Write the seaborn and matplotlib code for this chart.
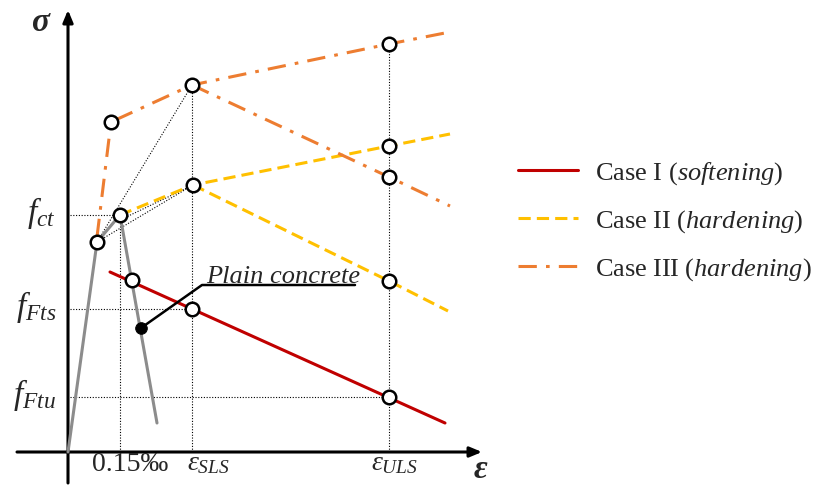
import numpy as np
import pandas as pd
import matplotlib
matplotlib.use("Agg")
import matplotlib.pyplot as plt
import seaborn as sns
from matplotlib.lines import Line2D

sns.set_theme(style="white")
plt.rcParams["font.family"] = ["Liberation Serif", "DejaVu Serif"]
plt.rcParams["mathtext.fontset"] = "custom"
plt.rcParams["mathtext.rm"] = "Liberation Serif"
plt.rcParams["mathtext.it"] = "Liberation Serif:italic"
plt.rcParams["mathtext.bf"] = "Liberation Serif:bold:italic"

# ---------------- data (schematic strain / stress units) ----------------
# plain concrete (grey)
plain_eps = [0.00, 0.29, 0.52, 0.89]
plain_sig = [0.00, 2.10, 2.37, 0.29]
plain_dot_eps = [0.73]
plain_dot_sig = [1.24]

# Case I (softening)
c1_eps = [0.42, 3.77]
c1_sig = [1.80, 0.29]
c1_pts_eps = [0.64, 1.24, 3.21]
c1_pts_sig = [1.72, 1.43, 0.55]

# Case II (hardening) – common part + two branches
c2_eps = [0.52, 1.25, 3.21, 3.82]
c2_sig = [2.37, 2.67, 3.06, 3.18]
c2b_eps = [1.25, 3.21, 3.80]
c2b_sig = [2.67, 1.71, 1.41]
c2_pts_eps = [0.52, 1.25, 3.21, 3.21]
c2_pts_sig = [2.37, 2.67, 3.06, 1.71]

# Case III (hardening)
c3_eps = [0.29, 0.43, 1.24, 3.21, 3.82]
c3_sig = [2.15, 3.30, 3.67, 4.08, 4.20]
c3b_eps = [1.24, 3.21, 3.82]
c3b_sig = [3.67, 2.75, 2.46]
c3_pts_eps = [0.29, 0.43, 1.24, 3.21, 3.21]
c3_pts_sig = [2.10, 3.30, 3.67, 4.08, 2.75]

# reference levels
eps_015, eps_sls, eps_uls = 0.52, 1.24, 3.21
f_ct, f_fts, f_ftu = 2.37, 1.43, 0.55
x_tick_labels = ["0.15‰", r"$\varepsilon_{SLS}$", r"$\varepsilon_{ULS}$"]
y_tick_labels = [r"$f_{ct}$", r"$f_{Fts}$", r"$f_{Ftu}$"]
legend_labels = [r"Case I $\mathit{(softening)}$",
                 r"Case II $\mathit{(hardening)}$",
                 r"Case III $\mathit{(hardening)}$"]

RED, YEL, ORA, GREY = "#C00000", "#FFC000", "#ED7D31", "#8C8C8C"
DASH2 = (0, (4, 2))
DASH3 = (0, (6, 3, 1.2, 3))

fig = plt.figure(figsize=(8.19, 4.90), dpi=100)
ax = fig.add_axes([0, 0, 1, 1])
ax.set_xlim(-0.68, 7.51)
ax.set_ylim(-0.38, 4.52)
ax.axis("off")

# dotted guide lines
dot_kw = dict(color="black", lw=0.8, linestyle=(0, (1, 1.5)), zorder=1)
ax.plot([0.02, eps_015], [f_ct, f_ct], **dot_kw)
ax.plot([0.02, eps_sls], [f_fts, f_fts], **dot_kw)
ax.plot([0.02, eps_uls], [f_ftu, f_ftu], **dot_kw)
ax.plot([eps_015, eps_015], [0, f_ct], **dot_kw)
ax.plot([eps_sls, eps_sls], [0, c3_sig[2]], **dot_kw)
ax.plot([eps_uls, eps_uls], [0, c3_sig[3]], **dot_kw)
ax.plot([plain_eps[1], c3_eps[2]], [plain_sig[1], c3_sig[2]], **dot_kw)
ax.plot([plain_eps[1], c2_eps[1]], [plain_sig[1], c2_sig[1]], **dot_kw)
ax.plot([plain_eps[2], c2_eps[1]], [plain_sig[2] - 0.05, c2_sig[1]], **dot_kw)

# axes arrows
ax.annotate("", xy=(0, 4.42), xytext=(0, -0.31),
            arrowprops=dict(arrowstyle="-|>,head_length=0.6,head_width=0.25",
                            color="black", lw=2.2, shrinkA=0, shrinkB=0), zorder=2)
ax.annotate("", xy=(4.14, 0), xytext=(-0.51, 0),
            arrowprops=dict(arrowstyle="-|>,head_length=0.6,head_width=0.25",
                            color="black", lw=2.2, shrinkA=0, shrinkB=0), zorder=2)

# curves
sns.lineplot(x=plain_eps, y=plain_sig, sort=False, estimator=None, color=GREY, lw=2.2, ax=ax, zorder=3)
sns.lineplot(x=c1_eps, y=c1_sig, sort=False, estimator=None, color=RED, lw=2.2, ax=ax, zorder=3)
sns.lineplot(x=c2_eps, y=c2_sig, sort=False, estimator=None, color=YEL, lw=2.2, linestyle=DASH2, ax=ax, zorder=3)
sns.lineplot(x=c2b_eps, y=c2b_sig, sort=False, estimator=None, color=YEL, lw=2.2, linestyle=DASH2, ax=ax, zorder=3)
sns.lineplot(x=c3_eps, y=c3_sig, sort=False, estimator=None, color=ORA, lw=2.2, linestyle=DASH3, ax=ax, zorder=3)
sns.lineplot(x=c3b_eps, y=c3b_sig, sort=False, estimator=None, color=ORA, lw=2.2, linestyle=DASH3, ax=ax, zorder=3)

# plain concrete label leader
ax.plot([plain_dot_eps[0], 1.34, 2.87], [plain_dot_sig[0], 1.67, 1.67], color="black", lw=1.8, zorder=4)
ax.text(1.38, 1.69, "Plain concrete", fontsize=19, style="italic", ha="left", va="baseline", zorder=6)

# markers
circ = dict(s=95, facecolor="white", edgecolor="black", linewidth=1.8, zorder=5, ax=ax)
sns.scatterplot(x=c1_pts_eps, y=c1_pts_sig, **circ)
sns.scatterplot(x=c2_pts_eps, y=c2_pts_sig, **circ)
sns.scatterplot(x=c3_pts_eps, y=c3_pts_sig, **circ)
sns.scatterplot(x=plain_dot_eps, y=plain_dot_sig, s=70, color="black", edgecolor="black", zorder=6, ax=ax)

# labels
ax.text(-0.28, 4.29, "σ", fontsize=24, style="italic", weight="bold", ha="center", va="center")
ax.text(4.12, -0.17, "ε", fontsize=24, style="italic", weight="bold", ha="center", va="center")
for lbl, y in zip(y_tick_labels, [f_ct, f_fts, f_ftu]):
    ax.text(-0.12, y + 0.02, lbl, fontsize=24, ha="right", va="center")
for lbl, x in zip(x_tick_labels, [0.62, 1.40, 3.27]):
    ax.text(x, -0.12, lbl, fontsize=20, ha="center", va="center")

handles = [Line2D([], [], color=RED, lw=2.2),
           Line2D([], [], color=YEL, lw=2.2, linestyle=DASH2),
           Line2D([], [], color=ORA, lw=2.2, linestyle=DASH3)]
ax.legend(handles, legend_labels, loc="upper left", bbox_to_anchor=(0.6325, 0.673),
          frameon=False, fontsize=19, handlelength=2.27, handletextpad=0.64,
          labelspacing=0.80, borderpad=0, borderaxespad=0)

fig.savefig("out.png", dpi=100)
